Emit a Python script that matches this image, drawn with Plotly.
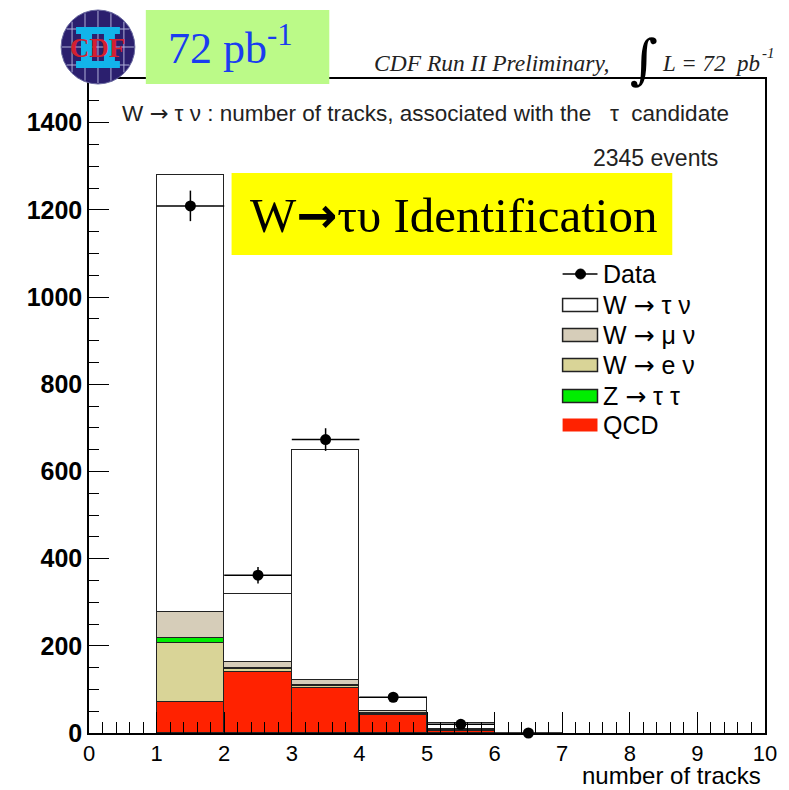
import plotly.graph_objects as go

# ---------------- data ----------------
bin_centers = [1.5, 2.5, 3.5, 4.5, 5.5]
qcd = [72, 140, 104, 42, 4]
w_enu = [135, 6, 3, 2, 1]
z_tautau = [12, 4, 4, 1, 1]
w_munu = [59, 12, 10, 5, 4]
w_taunu = [1002, 156, 527, 30, 14]

data_x = [1.5, 2.5, 3.5, 4.5, 5.5, 6.5]
data_y = [1209, 362, 673, 82, 20, 0]
data_err = [35, 19, 26, 9, 4.5, 0]

y_ticks = [0, 200, 400, 600, 800, 1000, 1200, 1400]
x_ticks = [0, 1, 2, 3, 4, 5, 6, 7, 8, 9, 10]

ARW = '<span style="font-family:DejaVu Sans">\u2192</span>'
legend_names = ["Data", "W " + ARW + " \u03c4 \u03bd", "W " + ARW + " \u03bc \u03bd", "W " + ARW + " e \u03bd",
                "Z " + ARW + " \u03c4 \u03c4", "QCD"]
col_taunu = "#ffffff"
col_munu = "#d6cdb9"
col_enu = "#d9d497"
col_z = "#00ee00"
col_qcd = "#ff2200"

# ---------------- figure ----------------
W, H = 789, 790
L, R, T, B = 89, 767, 79, 733


def px(x):
    return (x - L) / (R - L)


def py(y):
    return (B - y) / (B - T)


fig = go.Figure()
stack = [("QCD", qcd, col_qcd), ("Wenu", w_enu, col_enu), ("Ztt", z_tautau, col_z),
         ("Wmunu", w_munu, col_munu), ("Wtaunu", w_taunu, col_taunu)]
for name, vals, col in stack:
    fig.add_trace(go.Bar(x=bin_centers, y=vals, width=1.0, name=name,
                         marker=dict(color=col, line=dict(color="#222222", width=1.5)),
                         showlegend=False))

fig.add_trace(go.Scatter(x=data_x, y=data_y, mode="markers", showlegend=False,
                         marker=dict(color="black", size=11),
                         error_y=dict(type="data", array=data_err, color="black", thickness=1.5, width=0),
                         error_x=dict(type="constant", value=0.5, color="black", thickness=1.5, width=0),
                         cliponaxis=False))

fig.update_layout(
    width=W, height=H, barmode="stack", bargap=0,
    margin=dict(l=L, r=W - R, t=T, b=H - B),
    paper_bgcolor="white", plot_bgcolor="white",
    xaxis=dict(range=[0, 10], tickvals=x_ticks, ticks="inside", ticklen=21, tickwidth=1.2,
               tickcolor="black", showline=True, mirror=True, linecolor="black", linewidth=1.5,
               showgrid=False, zeroline=False,
               tickfont=dict(family="Liberation Sans", size=22, color="black"),
               minor=dict(dtick=0.2, ticks="inside", ticklen=11, tickwidth=1.2, tickcolor="black", showgrid=False)),
    yaxis=dict(range=[0, 1500], tickvals=y_ticks, ticks="inside", ticklen=20, tickwidth=1.2,
               tickcolor="black", showline=True, mirror=True, linecolor="black", linewidth=1.5,
               showgrid=False, zeroline=False,
               tickfont=dict(family="Liberation Sans", size=25, color="black", weight="bold"),
               minor=dict(dtick=50, ticks="inside", ticklen=10, tickwidth=1.2, tickcolor="black", showgrid=False)),
)

shapes = []
ann = []

# axis title
ann.append(dict(x=px(764), y=py(790), xref="paper", yref="paper", xanchor="right", yanchor="bottom",
                text="number of tracks", showarrow=False, borderpad=0,
                font=dict(family="Liberation Sans", size=24, color="black")))

# title inside frame
ann.append(dict(x=px(120), y=py(113), xref="paper", yref="paper", xanchor="left", yanchor="middle",
                text="W " + ARW + " \u03c4 \u03bd : number of tracks, associated with the \u00a0\u00a0\u03c4 \u00a0candidate",
                showarrow=False, font=dict(family="Liberation Sans", size=22.5, color="#222222")))
ann.append(dict(x=px(722), y=py(158), xref="paper", yref="paper", xanchor="right", yanchor="middle",
                text="2345 events", showarrow=False, font=dict(family="Liberation Sans", size=23, color="#222222")))

# yellow box
shapes.append(dict(type="rect", xref="paper", yref="paper", x0=px(232), x1=px(674), y0=py(255), y1=py(173),
                   fillcolor="#ffff00", line=dict(width=0), layer="above"))
ann.append(dict(x=px(455), y=py(215), xref="paper", yref="paper", xanchor="center", yanchor="middle",
                text='W<span style="font-family:DejaVu Sans;font-weight:bold">\u2192</span>\u03c4\u03c5 Identification',
                showarrow=False,
                font=dict(family="Liberation Serif", size=49, color="black")))

# legend
ly = [274, 305, 335, 365, 396, 425]
lx0, lx1, ltx = 564, 599, 603
fig_cols = [None, col_taunu, col_munu, col_enu, col_z, col_qcd]
for i, name in enumerate(legend_names):
    yc = ly[i]
    if i == 0:
        shapes.append(dict(type="line", xref="paper", yref="paper", x0=px(lx0), x1=px(lx1), y0=py(yc), y1=py(yc),
                           line=dict(color="black", width=1.5)))
        shapes.append(dict(type="circle", xref="paper", yref="paper", x0=px(582 - 5), x1=px(582 + 5),
                           y0=py(yc + 5), y1=py(yc - 5), fillcolor="black", line=dict(color="black", width=1)))
    else:
        lw = 0 if name == "QCD" else 1.5
        shapes.append(dict(type="rect", xref="paper", yref="paper", x0=px(lx0), x1=px(lx1), y0=py(yc + 6.5),
                           y1=py(yc - 6.5), fillcolor=fig_cols[i], line=dict(color="#222222", width=lw)))
    ann.append(dict(x=px(ltx), y=py(yc), xref="paper", yref="paper", xanchor="left", yanchor="middle",
                    text=name, showarrow=False, font=dict(family="Liberation Sans", size=25, color="black")))

# top-right label
ann.append(dict(x=px(373), y=py(63), xref="paper", yref="paper", xanchor="left", yanchor="middle",
                text="<i>CDF Run II Preliminary,</i>", showarrow=False,
                font=dict(family="Liberation Serif", size=23.5, color="#222222")))
ann.append(dict(x=px(646), y=py(60), xref="paper", yref="paper", xanchor="center", yanchor="middle",
                text="\u222b", showarrow=False, font=dict(family="DejaVu Serif", size=54, color="black")))
ann.append(dict(x=px(662), y=py(63), xref="paper", yref="paper", xanchor="left", yanchor="middle",
                text="<i>L = 72 \u00a0pb</i>", showarrow=False,
                font=dict(family="Liberation Serif", size=23, color="#222222")))
ann.append(dict(x=px(762), y=py(53), xref="paper", yref="paper", xanchor="left", yanchor="middle",
                text="<i>-1</i>", showarrow=False,
                font=dict(family="Liberation Serif", size=15, color="#222222")))

# green luminosity box
shapes.append(dict(type="rect", xref="paper", yref="paper", x0=px(146), x1=px(330), y0=py(84), y1=py(10),
                   fillcolor="#bbfa88", line=dict(width=0), layer="above"))
ann.append(dict(x=px(166), y=py(46), xref="paper", yref="paper", xanchor="left", yanchor="middle",
                text="72 pb<sup>-1</sup>", showarrow=False,
                font=dict(family="Liberation Serif", size=44, color="#1a3cf0")))

# CDF logo
cx, cy, r = 98, 47, 37
shapes.append(dict(type="circle", xref="paper", yref="paper", x0=px(cx - r), x1=px(cx + r), y0=py(cy + r),
                   y1=py(cy - r), fillcolor="#2b1f6e", line=dict(color="#6a6aa0", width=1), layer="above"))
for dx in [-26, -13, 0, 13, 26]:
    hh = (r * r - dx * dx) ** 0.5 - 1
    shapes.append(dict(type="line", xref="paper", yref="paper", x0=px(cx + dx), x1=px(cx + dx),
                       y0=py(cy - hh), y1=py(cy + hh), line=dict(color="#b0b0d8", width=1), layer="above"))
for dy in [-18, 0, 18]:
    ww = (r * r - dy * dy) ** 0.5 - 1
    shapes.append(dict(type="line", xref="paper", yref="paper", x0=px(cx - ww), x1=px(cx + ww),
                       y0=py(cy + dy), y1=py(cy + dy), line=dict(color="#b0b0d8", width=1), layer="above"))
for (x0, x1, y0, y1) in [(76, 120, 27, 34), (76, 120, 61, 68), (81, 92, 27, 68), (104, 115, 27, 68)]:
    shapes.append(dict(type="rect", xref="paper", yref="paper", x0=px(x0), x1=px(x1), y0=py(y1), y1=py(y0),
                       fillcolor="#12b4ea", line=dict(width=0), layer="above"))
ann.append(dict(x=px(cx), y=py(cy + 1), xref="paper", yref="paper", xanchor="center", yanchor="middle",
                text="<b>CDF</b>", showarrow=False,
                font=dict(family="Liberation Serif", size=27, color="#d42030")))

fig.update_layout(shapes=shapes, annotations=ann)
fig.write_html("out.html")
